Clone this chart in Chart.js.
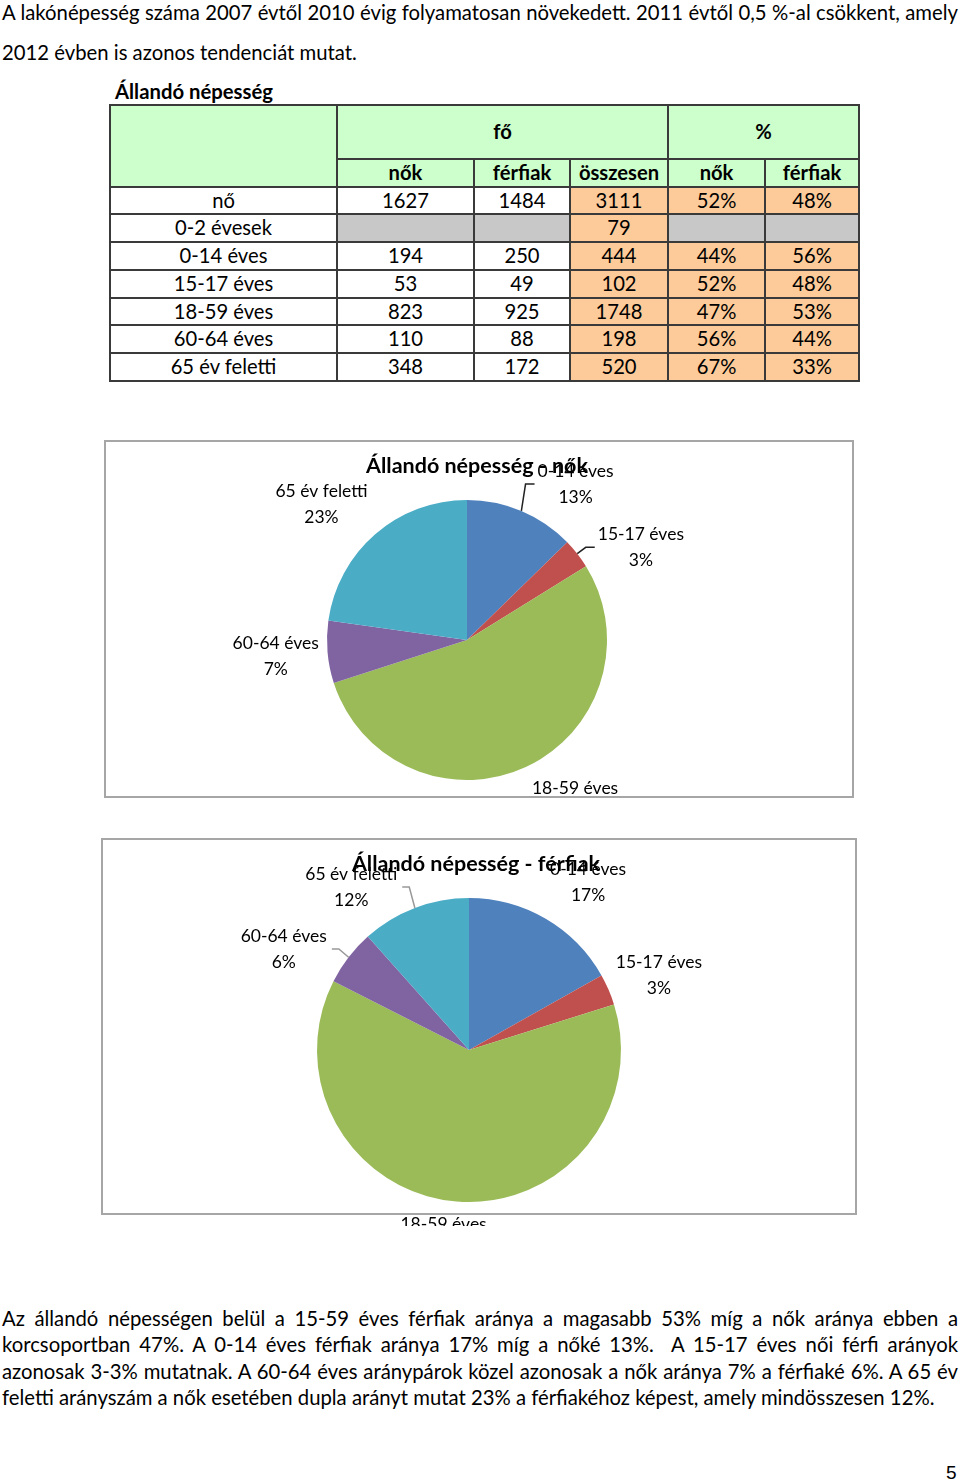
<!DOCTYPE html>
<html lang="hu">
<head>
<meta charset="UTF-8">
<title>Állandó népesség</title>
<script src="https://cdn.jsdelivr.net/npm/chart.js"></script>
<style>
  body { margin: 0; background: #fff; }
  .page { position: relative; width: 960px; height: 1482px; font-family: Lato, sans-serif; color: #000; overflow: hidden; }
  .line { position: absolute; left: 2px; width: 956px; font-size: 20.3px; white-space: nowrap; }
  .just { text-align: justify; text-align-last: justify; white-space: normal; }
  .caption { position: absolute; left: 115px; top: 79px; font-size: 20.3px; font-weight: bold; }
  table { position: absolute; left: 109px; top: 104px; border-collapse: collapse; table-layout: fixed; width: 749px; font-size: 20.2px; }
  td { border: 2px solid #3a3a3a; text-align: center; padding: 0; height: 25.7px; line-height: 25.7px; }
  .green { background: #ccffcc; font-weight: bold; }
  .orange { background: #fccb99; }
  .gray { background: #c8c8c8; }
  .box { position: absolute; box-sizing: border-box; border: 2px solid #a6a6a6; pointer-events: none; }
  canvas { position: absolute; }
  .pagenum { position: absolute; left: 946px; top: 1462px; font: 19px "Liberation Sans", Arial, sans-serif; }
</style>
</head>
<body>
<div class="page">
  <div class="line just" style="top:0px;line-height:24px;">A lakónépesség száma 2007 évtől 2010 évig folyamatosan növekedett. 2011 évtől 0,5 %-al csökkent, amely</div>
  <div class="line" style="top:40px;line-height:24px;">2012 évben is azonos tendenciát mutat.</div>
  <div class="caption">Állandó népesség</div>
  <table id="tbl"></table>

  <canvas id="chartNok" width="746" height="354" style="left:106px;top:442px;"></canvas>
  <div class="box" style="left:104px;top:440px;width:750px;height:358px;"></div>

  <canvas id="chartFerfi" width="752" height="386" style="left:103px;top:840px;"></canvas>
  <div class="box" style="left:101px;top:838px;width:756px;height:377px;"></div>

  <div class="line just" style="top:1305px;line-height:26.3px;">Az állandó népességen belül a 15-59 éves férfiak aránya a magasabb 53% míg a nők aránya ebben a</div>
  <div class="line just" style="top:1331.3px;line-height:26.3px;">korcsoportban 47%. A 0-14 éves férfiak aránya 17% míg a nőké 13%.&nbsp; A 15-17 éves női férfi arányok</div>
  <div class="line just" style="top:1357.6px;line-height:26.3px;">azonosak 3-3% mutatnak. A 60-64 éves aránypárok közel azonosak a nők aránya 7% a férfiaké 6%. A 65 év</div>
  <div class="line" style="top:1383.9px;line-height:26.3px;">feletti arányszám a nők esetében dupla arányt mutat 23% a férfiakéhoz képest, amely mindösszesen 12%.</div>
  <div class="pagenum">5</div>
</div>
<script>
// chart data
const ageGroups = ['0-14 éves', '15-17 éves', '18-59 éves', '60-64 éves', '65 év feletti'];
const nokValues = [194, 53, 823, 110, 348];
const ferfiValues = [250, 49, 925, 88, 172];
const sliceColors = ['#4f81bd', '#c0504d', '#9bbb59', '#8064a2', '#4bacc6'];

// table data
const rowNames = ['nő', '0-2 évesek', '0-14 éves', '15-17 éves', '18-59 éves', '60-64 éves', '65 év feletti'];
const colNok = [1627, null, 194, 53, 823, 110, 348];
const colFerfi = [1484, null, 250, 49, 925, 88, 172];
const colTotal = [3111, 79, 444, 102, 1748, 198, 520];
const colNokPct = ['52%', null, '44%', '52%', '47%', '56%', '67%'];
const colFerfiPct = ['48%', null, '56%', '48%', '53%', '44%', '33%'];

// build table
const tbl = document.getElementById('tbl');
let html = '<colgroup><col style="width:227px"><col style="width:137px"><col style="width:96px">' +
  '<col style="width:98px"><col style="width:97px"><col style="width:94px"></colgroup>';
html += '<tr><td class="green" rowspan="2"></td><td class="green" colspan="3" style="height:52px">fő</td><td class="green" colspan="2">%</td></tr>';
html += '<tr><td class="green">nők</td><td class="green">férfiak</td><td class="green">összesen</td><td class="green">nők</td><td class="green">férfiak</td></tr>';
rowNames.forEach((name, i) => {
  const cell = (v, cls) => v === null ? '<td class="gray"></td>' : '<td' + (cls ? ' class="' + cls + '"' : '') + '>' + v + '</td>';
  html += '<tr><td>' + name + '</td>' + cell(colNok[i]) + cell(colFerfi[i]) + cell(colTotal[i], 'orange') +
    cell(colNokPct[i], 'orange') + cell(colFerfiPct[i], 'orange') + '</tr>';
});
tbl.innerHTML = html;

// draws title + outside labels with optional leader lines
const pieLabels = {
  id: 'pieLabels',
  afterDatasetsDraw(chart, args, opts) {
    const ctx = chart.ctx;
    const values = chart.data.datasets[0].data;
    const total = values.reduce((a, b) => a + b, 0);
    ctx.save();
    ctx.fillStyle = '#000';
    ctx.textAlign = 'center';
    ctx.textBaseline = 'middle';
    ctx.font = 'bold 21.5px Lato';
    ctx.fillText(opts.title, opts.titleX, opts.titleY);
    ctx.font = '17.5px Lato';
    chart.getDatasetMeta(0).data.forEach((arc, i) => {
      const p = arc.getProps(['x', 'y', 'startAngle', 'endAngle', 'outerRadius'], true);
      const mid = (p.startAngle + p.endAngle) / 2;
      const a = mid + opts.nudge[i] * Math.PI / 180;
      const d = p.outerRadius + opts.dist[i];
      const cx = p.x + d * Math.cos(a);
      const cy = p.y + d * Math.sin(a);
      const name = chart.data.labels[i];
      const pct = Math.round(values[i] / total * 100) + '%';
      ctx.fillText(name, cx, cy - 13);
      ctx.fillText(pct, cx, cy + 13);
      if (opts.leader[i]) {
        const w = Math.max(ctx.measureText(name).width, ctx.measureText(pct).width);
        const ex = p.x + p.outerRadius * Math.cos(mid);
        const ey = p.y + p.outerRadius * Math.sin(mid);
        ctx.strokeStyle = opts.leaderColor;
        ctx.lineWidth = 1.5;
        ctx.beginPath();
        ctx.moveTo(ex, ey);
        if (cx > p.x) {
          const left = cx - w / 2;
          ctx.lineTo(left - 12, cy);
          ctx.lineTo(left - 3, cy);
        } else {
          const right = cx + w / 2;
          ctx.lineTo(right + 12, cy);
          ctx.lineTo(right + 5, cy);
        }
        ctx.stroke();
      }
    });
    ctx.restore();
  }
};

function makePie(id, values, padding, labelOpts) {
  return new Chart(document.getElementById(id), {
    type: 'pie',
    data: {
      labels: ageGroups,
      datasets: [{ data: values, backgroundColor: sliceColors, borderWidth: 0 }]
    },
    options: {
      responsive: false,
      animation: false,
      devicePixelRatio: 1,
      layout: { padding: padding },
      plugins: {
        legend: { display: false },
        tooltip: { enabled: false },
        pieLabels: labelOpts
      }
    },
    plugins: [pieLabels]
  });
}

makePie('chartNok', nokValues, { left: 221, right: 245, top: 58, bottom: 16 }, {
  title: 'Állandó népesség - nők', titleX: 371, titleY: 24,
  nudge: [12, 10, -9, 0, -6],
  dist: [50, 57, 54, 52, 59],
  leader: [true, true, false, false, false],
  leaderColor: '#222'
});

makePie('chartFerfi', ferfiValues, { left: 214, right: 234, top: 58, bottom: 24 }, {
  title: 'Állandó népesség - férfiak', titleX: 373, titleY: 24,
  nudge: [5, 2, 3, -9, -15],
  dist: [54, 52, 37, 59, 49],
  leader: [false, false, false, true, true],
  leaderColor: '#999'
});
</script>
</body>
</html>
